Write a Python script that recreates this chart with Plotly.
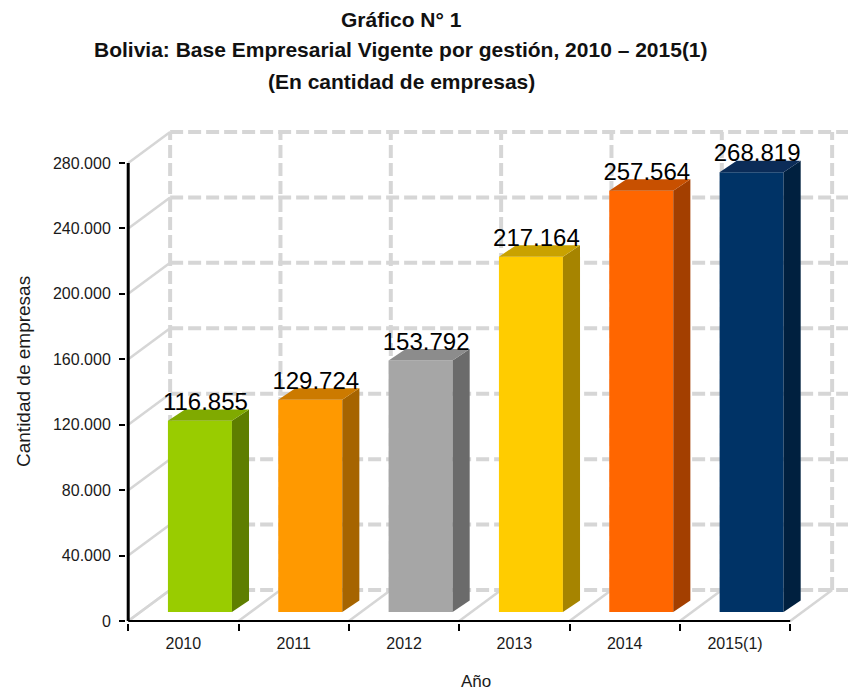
import plotly.graph_objects as go

years = ['2010', '2011', '2012', '2013', '2014', '2015(1)']
empresas = [116855, 129724, 153792, 217164, 257564, 268819]
etiquetas = ['116.855', '129.724', '153.792', '217.164', '257.564', '268.819']
y_ticks = [0, 40000, 80000, 120000, 160000, 200000, 240000, 280000]
y_ticktext = ['0', '40.000', '80.000', '120.000', '160.000', '200.000', '240.000', '280.000']

color_frente = ['#99CC00', '#FF9900', '#A6A6A6', '#FFCC00', '#FF6600', '#003366']
color_lado = ['#5E7E00', '#A66400', '#6B6B6B', '#A68400', '#A33F00', '#00203F']
color_techo = ['#80AA00', '#CC7A00', '#8C8C8C', '#C9A200', '#C85000', '#0B2C58']

FONT = 'Liberation Sans, Arial, sans-serif'

# pseudo 3D: offsets of the back wall and of the bars (in axis units)
FONDO_X, FONDO_Y = 0.38, 18950
BARRA_X, BARRA_Y, MEDIO = 0.15, 5500, 0.29
LADO_X, LADO_Y = 0.155, 7000
X_MAX = 6.06
bordes = [k - 0.5 for k in range(len(years) + 1)]

fig = go.Figure()

# back wall grid (dashed)
gx, gy = [], []
for v in y_ticks:
    gx += [-0.5 + FONDO_X, X_MAX, None]
    gy += [v + FONDO_Y, v + FONDO_Y, None]
for b in bordes:
    gx += [b + FONDO_X, b + FONDO_X, None]
    gy += [FONDO_Y, y_ticks[-1] + FONDO_Y, None]
fig.add_trace(go.Scatter(x=gx, y=gy, mode='lines', hoverinfo='skip',
                         line=dict(color='#d6d6d6', width=4, dash='13px,5px')))

# side wall and floor diagonals
dx, dy = [], []
for v in y_ticks:
    dx += [-0.5, -0.5 + FONDO_X, None]
    dy += [v, v + FONDO_Y, None]
for b in bordes:
    dx += [b, b + FONDO_X, None]
    dy += [0, FONDO_Y, None]
fig.add_trace(go.Scatter(x=dx, y=dy, mode='lines', hoverinfo='skip',
                         line=dict(color='#d6d6d6', width=2.5)))

# bars: front, side, top
for i, v in enumerate(empresas):
    c = i + BARRA_X
    xl, xr = c - MEDIO, c + MEDIO
    yb, yt = BARRA_Y, v + BARRA_Y
    caras = [
        ([xl, xr, xr, xl, xl], [yb, yb, yt, yt, yb], color_frente[i]),
        ([xr, xr + LADO_X, xr + LADO_X, xr, xr],
         [yb, yb + LADO_Y, yt + LADO_Y, yt, yb], color_lado[i]),
        ([xl, xr, xr + LADO_X, xl + LADO_X, xl],
         [yt, yt, yt + LADO_Y, yt + LADO_Y, yt], color_techo[i]),
    ]
    for px_, py_, col in caras:
        fig.add_trace(go.Scatter(x=px_, y=py_, mode='lines', fill='toself',
                                 fillcolor=col, line=dict(width=0),
                                 hoverinfo='skip'))

# axis lines
fig.add_trace(go.Scatter(x=[-0.5, -0.5], y=[0, y_ticks[-1]], mode='lines',
                         line=dict(color='black', width=3), hoverinfo='skip'))
fig.add_trace(go.Scatter(x=[bordes[0], bordes[-1]], y=[0, 0], mode='lines',
                         line=dict(color='black', width=2), hoverinfo='skip'))

# value labels
fig.add_trace(go.Scatter(
    x=[i + BARRA_X + 0.05 for i in range(len(years))],
    y=[v + BARRA_Y + 3000 for v in empresas],
    mode='text', text=etiquetas, textposition='top center',
    textfont=dict(family=FONT, size=24, color='black'),
    cliponaxis=False, hoverinfo='skip'))

# the page body has an 8px margin, so the figure is sized to fit inside it
OFF = 8
W, H = 856 - OFF, 691 - OFF
L, R, T, B = 118, 4, 117, 68
plot_w = W - L - R
plot_h = H - T - B


def px(pix):
    return (pix - OFF - L) / plot_w


def py(pix):
    return 1 + (T - (pix - OFF)) / plot_h


titulos = ['Gráfico N° 1',
           'Bolivia: Base Empresarial Vigente por gestión, 2010 – 2015(1)',
           '(En cantidad de empresas)']
anots = []
for t, yy in zip(titulos, [19, 50, 81]):
    anots.append(dict(text='<b>' + t + '</b>', x=px(401), y=py(yy),
                      xref='paper', yref='paper', showarrow=False,
                      xanchor='center', yanchor='middle',
                      font=dict(family=FONT, size=21, color='#111')))
anots.append(dict(text='Cantidad de empresas', textangle=-90, x=px(23),
                  y=py(372), xref='paper', yref='paper', showarrow=False,
                  xanchor='center', yanchor='middle',
                  font=dict(family=FONT, size=19, color='#1a1a1a')))
anots.append(dict(text='Año', x=px(476), y=py(681), xref='paper',
                  yref='paper', showarrow=False, xanchor='center',
                  yanchor='middle',
                  font=dict(family=FONT, size=17, color='#1a1a1a')))
anots.append(dict(text='Fuente: FUNDEMPRESA', x=px(0), y=py(686),
                  xref='paper', yref='paper', showarrow=False,
                  xanchor='left', yanchor='top',
                  font=dict(family=FONT, size=14, color='#1a1a1a')))

fig.update_layout(
    width=W, height=H,
    margin=dict(l=L, r=R, t=T, b=B),
    plot_bgcolor='white', paper_bgcolor='white',
    showlegend=False,
    annotations=anots,
    xaxis=dict(range=[-0.52, X_MAX], tickvals=list(range(len(years))),
               ticktext=years, ticks='', showgrid=False, zeroline=False,
               showline=False, ticklabelstandoff=9,
               tickfont=dict(family=FONT, size=16, color='#1a1a1a'),
               minor=dict(tickvals=bordes, ticks='outside', ticklen=7,
                          tickwidth=2, tickcolor='black', showgrid=False)),
    yaxis=dict(range=[-1220, 303230], tickvals=y_ticks, ticktext=y_ticktext,
               ticks='outside', ticklen=6, tickwidth=2, tickcolor='black',
               showgrid=False, zeroline=False, showline=False,
               ticklabelstandoff=5,
               tickfont=dict(family=FONT, size=16, color='#1a1a1a')),
)

fig.write_html("out.html")
